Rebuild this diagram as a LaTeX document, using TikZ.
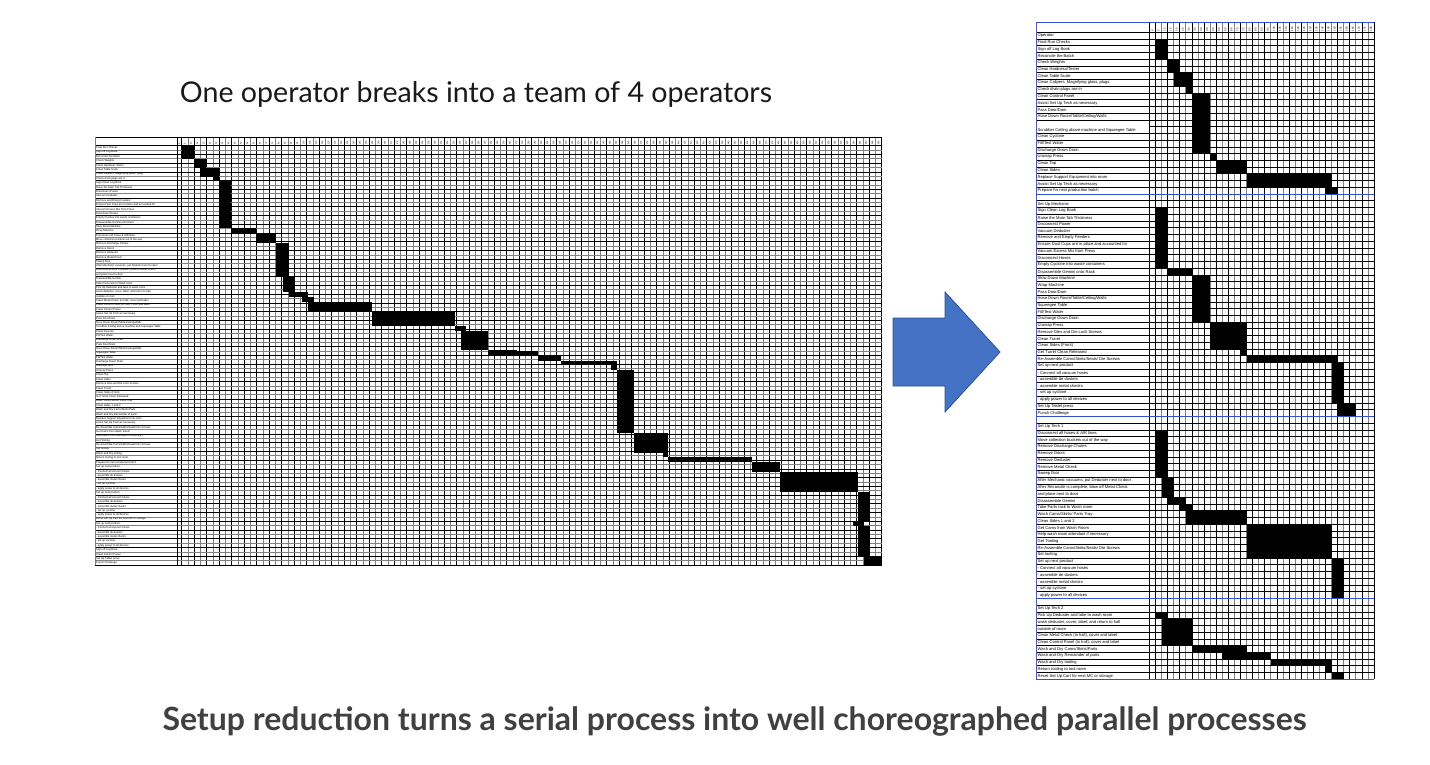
\documentclass[tikz,border=0pt]{standalone}
\usepackage{fontspec}
\setmainfont{Lato}
\newfontfamily\arialf{Liberation Sans}
\definecolor{arrowblue}{HTML}{4472C4}
\definecolor{arrowedge}{HTML}{2F528F}
\definecolor{gridgray}{gray}{0.5}
\definecolor{secblue}{HTML}{3050D0}
\definecolor{titlegray}{HTML}{404040}
\begin{document}
\begin{tikzpicture}[x=1pt,y=-1pt,
  blk/.style={line width=0.75pt,draw=black},
  gry/.style={line width=0.75pt,draw=gridgray},
  bluel/.style={line width=0.9pt,draw=secblue},
  rlabel/.style={anchor=west,inner sep=0pt,font=\arialf\fontsize{4.1}{4.1}\selectfont},
  llabel/.style={anchor=west,inner sep=0pt,font=\arialf\fontsize{2.7}{2.7}\selectfont},
  lnum/.style={rotate=90,anchor=west,inner sep=0pt,font=\arialf\fontsize{2.3}{2.3}\selectfont},
  rnum/.style={rotate=90,anchor=west,inner sep=0pt,font=\arialf\fontsize{2.8}{2.8}\selectfont}]
\fill[white] (0,0) rectangle (1430,764);
\useasboundingbox (0,0) rectangle (1430,764);

% ---------------- titles ----------------
\node[anchor=base,inner sep=0pt,font=\fontsize{28.6}{34}\selectfont,text=black!90] (toptitle) at (476,102) {One operator breaks into a team of 4 operators};
\node[anchor=base,inner sep=0pt,font=\bfseries\fontsize{32}{38}\selectfont,text=titlegray] (bottomtitle) at (734.5,730) {Setup reduction turns a serial process into well choreographed parallel processes};

% ---------------- arrow ----------------
\draw[fill=arrowblue,draw=arrowedge,line width=0.8pt] (893,318) -- (945,318) -- (945,292) -- (1000,352) -- (945,412) -- (945,386) -- (893,386) -- cycle;

% ================= LEFT CHART =================
\foreach \k in {0,...,112}{
  \pgfmathsetmacro\xx{181.7+6.25*\k}
  \ifodd\k \draw[gry] (\xx,137)--(\xx,565); \else \draw[blk] (\xx,137)--(\xx,565); \fi
}
\foreach \r in {0,...,96}{
  \pgfmathsetmacro\yy{145.7+4.3677*\r}
  \ifodd\r \draw[gry] (95,\yy)--(881.7,\yy); \else \draw[blk] (95,\yy)--(881.7,\yy); \fi
}
\draw[blk] (95,137)--(881.7,137);
\draw[gry] (95,137)--(95,565);
\draw[blk] (177,137)--(177,565);
\node[lnum] at (179.35,144.8) {0};
\foreach \k in {1,...,112}{
  \pgfmathtruncatemacro\v{5*\k}
  \node[lnum] at ({181.7+6.25*(\k-0.5)},144.8) {\v};
}
\foreach \t [count=\i] in {Final Run Checks, Sign off Log Book, Reconcile the Batch, Check Weights, Clean Hardness Tester, Clean Table Scale, {Clean Calipers, Magnifying glass, plugs}, Check drain plugs are in, Sign Clean Log Book, Raise the Main Tab Thickness, Disconnect Power, Vacuum Deduster, Remove and Empty Feeders, Ensure Dust Cups are in place and accounted for, Vacuum Excess Mix from Press, Disconnect Hoses, Empty Cyclone into waste containers, Disassemble Gemini onto Rack, Slow Down Machine, Wrap Machine, Disconnect all hoses \& AIR lines, Move collection buckets out of the way, Remove Discharge Chutes, Remove Doors, Remove Deduster, Remove Metal Check, Sweep floor, {After Mechanic vacuums, put Deduster next to door}, {After Reconcile is complete, blow off Metal Check}, and place next to door, Disassemble Gemini, Take Parts rack to Wash room, Pick Up Deduster and take to wash room, {wash deduster, cover, label, and return to hall}, outside of room, {Clean Metal Check (in hall), cover and label}, {Clean Control Panel (in hall), cover and label}, Clean Control Panel, Assist Set Up Tech as necessary, Pass Door/Dam, Hose Down Room/Table/Ceiling/Walls, Scrubber Ceiling above machine and Squeegee Table, Clean Cyclone, Fill/Test Water, Discharge Down Drain, Pass Door/Dam, Hose Down Room/Table/Ceiling/Walls, Squeegee Table, Fill/Test Water, Discharge Down Drain, Unwrap Press, Unwrap Press, Clean Top, Clean Sides, Remove Dies and Die Lock Screws, Clean Turret, Clean Sides (Front), Get Turret Clean Released, Wash Cams/Skirts/ Parts Tray, Clean Sides 1 and 2, Wash and Dry Cams/Skirts/Parts, Wash and Dry Remainder of parts, Replace Support Equipment into room, Assist Set Up Tech as necessary, Re-Assemble Cams/Skirts/Seals/ Die Screws, Get Cams from Wash Room, Help wash room attendant if necessary, Get Tooling, Re-Assemble Cams/Skirts/Seals/ Die Screws, Set tooling, Wash and Dry tooling, Return tooling to tool room, Prepare for next production batch, Set up next product, - Connect all vacuum hoses, - assemble de dusters, - assemble metal checks, - set up cyclone, - apply power to all devices, Set up next product, - Connect all vacuum hoses, - assemble de dusters, - assemble metal checks, - set up cyclone, - apply power to all devices, Reset Set Up Cart for next MC or storage, Set up next product, - Connect all vacuum hoses, - assemble de dusters, - assemble metal checks, - set up cyclone, - apply power to all devices, Sign off Log Book, Clean Control Panel, Set Up Tablet press, Punch Challenge}{
  \node[llabel] at (96,{145.7+4.3677*(\i-0.5)}) {\t};
}
\foreach \a/\b/\c/\d in {181.7/145.7/194/158.7, 194/158.7/206.3/167.7, 200/167.7/219/176.7, 212.7/176.7/219/181, 219/181/231.3/228.3, 231.3/228.3/256.3/233.3, 256.3/233.3/276/243.3, 276/243.3/289/276.7, 282.7/276.7/295.3/291.7, 289/291.7/308.3/296.7, 301.7/296.7/314/301.7, 308.3/301.7/371.7/311.7, 371.7/311.7/455/325.7, 455/325.7/466/331, 460.7/331/488.3/350, 488.3/350/516.7/355, 516.7/350.8/538.3/355.7, 538.3/355.7/560.7/360.7, 560.7/360.7/616.7/365, 611/365/616.7/370, 616.7/370/634.3/433.3, 634.3/433.3/667.7/452.7, 662.7/452.7/667.7/457.3, 667.7/457.3/751.7/462.3, 751.7/462.3/780/472.3, 780/472.3/858.3/491.7, 858.3/491.7/870/521.7, 853.3/521.7/864/526, 858.3/526/870/555.7, 864/555.7/881.7/565}{
  \fill[black] (\a,\b) rectangle (\c,\d);
}

% ================= RIGHT CHART =================
\foreach \k in {0,...,36}{
  \pgfmathsetmacro\xx{1155.5+6.07*\k}
  \ifodd\k \draw[gry] (\xx,22)--(\xx,679.3); \else \draw[blk] (\xx,22)--(\xx,679.3); \fi
}
\foreach \u in {0,...,96}{
  \pgfmathsetmacro\yy{32.3+6.74*\u}
  \ifnum\u=14 \draw[blk] (1149.5,\yy)--(1374,\yy); \else \draw[blk] (1036,\yy)--(1374,\yy); \fi
}
\draw[line width=0.6pt,draw=gridgray!70!blue] (1036,22)--(1036,679.3);
\draw[line width=0.9pt,draw=black] (1149.5,22)--(1149.5,679.3);
\foreach \yy in {22,194.06,416.5,598.5,679.3}{
  \draw[bluel] (1036,\yy)--(1374,\yy);
}
\node[rnum] at (1152.5,31.5) {0};
\foreach \k in {1,...,36}{
  \pgfmathtruncatemacro\v{5*\k}
  \node[rnum] at ({1155.5+6.07*(\k-0.5)},31.5) {\v};
}
\foreach \u/\t in {0/{Operator}, 1/{Final Run Checks}, 2/{Sign off Log Book}, 3/{Reconcile the Batch}, 4/{Check Weights}, 5/{Clean Hardness/Tester}, 6/{Clean Table Scale}, 7/{Clean Calipers, Magnifying glass, plugs}, 8/{Check drain plugs are in}, 9/{Clean Control Panel}, 10/{Assist Set Up Tech as necessary}, 11/{Pass Door/Dam}, 12/{Hose Down Room/Table/Ceiling/Walls}, 14/{Scrubber Ceiling above machine and Squeegee Table}, 15/{Clean Cyclone}, 16/{Fill/Test Water}, 17/{Discharge Down Drain}, 18/{Unwrap Press}, 19/{Clean Top}, 20/{Clean Sides}, 21/{Replace Support Equipment into room}, 22/{Assist Set Up Tech as necessary}, 23/{Prepare for next production batch}, 25/{Set Up Mechanic}, 26/{Sign Clean Log Book}, 27/{Raise the Main Tab Thickness}, 28/{Disconnect Power}, 29/{Vacuum Deduster}, 30/{Remove and Empty Feeders}, 31/{Ensure Dust Cups are in place and accounted for}, 32/{Vacuum Excess Mix from Press}, 33/{Disconnect Hoses}, 34/{Empty Cyclone into waste containers}, 35/{Disassemble Gemini onto Rack}, 36/{Slow Down Machine}, 37/{Wrap Machine}, 38/{Pass Door/Dam}, 39/{Hose Down Room/Table/Ceiling/Walls}, 40/{Squeegee Table}, 41/{Fill/Test Water}, 42/{Discharge Down Drain}, 43/{Unwrap Press}, 44/{Remove Dies and Die Lock Screws}, 45/{Clean Turret}, 46/{Clean Sides (Front)}, 47/{Get Turret Clean Released}, 48/{Re-Assemble Cams/Skirts/Seals/ Die Screws}, 49/{Set up next product}, 50/{- Connect all vacuum hoses}, 51/{- assemble de dusters}, 52/{- assemble metal checks}, 53/{- set up cyclone}, 54/{- apply power to all devices}, 55/{Set Up Tablet press}, 56/{Punch Challenge}, 58/{Set Up Tech 1}, 59/{Disconnect all hoses \& AIR lines}, 60/{Move collection buckets out of the way}, 61/{Remove Discharge Chutes}, 62/{Remove Doors}, 63/{Remove Deduster}, 64/{Remove Metal Check}, 65/{Sweep floor}, 66/{After Mechanic vacuums, put Deduster next to door}, 67/{After Reconcile is complete, blow off Metal Check}, 68/{and place next to door}, 69/{Disassemble Gemini}, 70/{Take Parts rack to Wash room}, 71/{Wash Cams/Skirts/ Parts Tray}, 72/{Clean Sides 1 and 2}, 73/{Get Cams from Wash Room}, 74/{Help wash room attendant if necessary}, 75/{Get Tooling}, 76/{Re-Assemble Cams/Skirts/Seals/ Die Screws}, 77/{Set tooling}, 78/{Set up next product}, 79/{- Connect all vacuum hoses}, 80/{- assemble de dusters}, 81/{- assemble metal checks}, 82/{- set up cyclone}, 83/{- apply power to all devices}, 85/{Set Up Tech 2}, 86/{Pick Up Deduster and take to wash room}, 87/{wash deduster, cover, label, and return to hall}, 88/{outside of room}, 89/{Clean Metal Check (in hall), cover and label}, 90/{Clean Control Panel (in hall), cover and label}, 91/{Wash and Dry Cams/Skirts/Parts}, 92/{Wash and Dry Remainder of parts}, 93/{Wash and Dry tooling}, 94/{Return tooling to tool room}, 95/{Reset Set Up Cart for next MC or storage}}{
  \node[rlabel] at (1037.5,{32.3+6.74*(\u+0.5)}) {\t};
}
\foreach \ua/\ub/\ca/\cb in {1/3/0/1, 4/5/2/3, 6/7/3/5, 8/8/5/5, 9/17/6/8, 18/18/9/9, 19/20/10/14, 21/22/15/28, 23/23/28/29,
  26/34/0/1, 35/35/2/5, 36/42/6/8, 43/46/9/14, 47/47/14/14, 48/48/15/29, 49/54/29/30, 55/56/30/32,
  59/65/0/1, 66/68/1/2, 69/69/2/4, 70/70/4/5, 71/72/5/14, 73/77/15/28, 78/83/29/30,
  86/86/0/1, 87/90/1/5, 91/91/6/14, 92/92/11/18, 93/93/19/28, 94/94/28/28, 95/95/29/30}{
  \fill[black] ({1155.5+6.07*\ca},{32.3+6.74*\ua}) rectangle ({1155.5+6.07*(\cb+1)},{32.3+6.74*(\ub+1)});
}
\end{tikzpicture}
\end{document}
